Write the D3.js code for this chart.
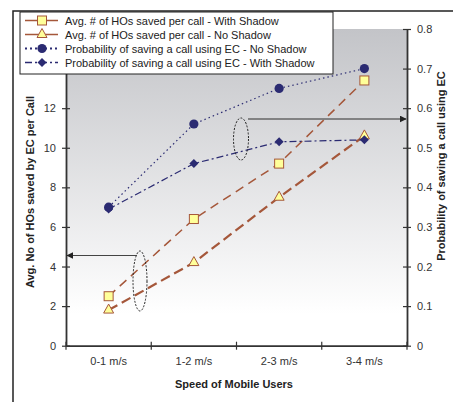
<!DOCTYPE html>
<html>
<head>
<meta charset="utf-8">
<script src="https://cdn.jsdelivr.net/npm/d3@7"></script>
<style>
  html, body { margin: 0; padding: 0; background: #fff; }
  svg { display: block; font-family: "Liberation Sans", Arial, sans-serif; }
</style>
</head>
<body>
<svg id="chart" width="453" height="402"></svg>
<script>
// Speed classes on the x axis
const categories = ["0-1 m/s", "1-2 m/s", "2-3 m/s", "3-4 m/s"];

// Average number of handovers saved per call (left axis)
const hosWithShadow = [2.5, 6.4, 9.2, 13.4];
const hosNoShadow = [1.8, 4.2, 7.5, 10.6];

// Probability of saving a call using EC (right axis)
const probNoShadow = [0.35, 0.56, 0.65, 0.70];
const probWithShadow = [0.345, 0.46, 0.515, 0.52];

// Tick labels
const leftTicks = [0, 2, 4, 6, 8, 10, 12, 14, 16];
const rightTicks = [0, 0.1, 0.2, 0.3, 0.4, 0.5, 0.6, 0.7, 0.8];

const legendLabels = [
  "Avg. # of HOs saved per call - With Shadow",
  "Avg. # of HOs saved per call - No Shadow",
  "Probability of saving a call using EC - No Shadow",
  "Probability of saving a call using EC - With Shadow"
];

const svg = d3.select("#chart");
const plot = { left: 66, right: 407, top: 29, bottom: 345.7 };

const x = d3.scaleBand().domain(categories).range([plot.left, plot.right]).padding(0);
const yL = d3.scaleLinear().domain([0, 16]).range([plot.bottom, plot.top]);
const yR = d3.scaleLinear().domain([0, 0.8]).range([plot.bottom, plot.top]);

const BROWN = "#a5573a";
const NAVY = "#2b2b72";
const AXIS = "#333";

// outer frame of the figure
svg.append("rect")
  .attr("x", 13).attr("y", 11).attr("width", 460).attr("height", 420)
  .attr("fill", "none").attr("stroke", "#222").attr("stroke-width", 1.5);

// plot area gradient
const defs = svg.append("defs");
const grad = defs.append("linearGradient").attr("id", "bg")
  .attr("x1", 0).attr("y1", 0).attr("x2", 0).attr("y2", 1);
grad.append("stop").attr("offset", 0).attr("stop-color", "#c3c4c8");
grad.append("stop").attr("offset", 0.9).attr("stop-color", "#ffffff");
grad.append("stop").attr("offset", 1).attr("stop-color", "#ffffff");

svg.append("rect")
  .attr("x", plot.left).attr("y", plot.top)
  .attr("width", plot.right - plot.left).attr("height", plot.bottom - plot.top)
  .attr("fill", "url(#bg)");

// axes
function styleAxis(g) {
  g.selectAll("path").attr("stroke", AXIS).attr("stroke-width", 1.8);
  g.selectAll("line").attr("stroke", AXIS).attr("stroke-width", 1.2);
  g.selectAll("text").attr("fill", "#333").attr("font-size", 11)
    .attr("font-family", "Liberation Sans, Arial, sans-serif");
}

const gL = svg.append("g").attr("transform", `translate(${plot.left},0)`)
  .call(d3.axisLeft(yL).tickValues(leftTicks).tickFormat(d3.format("d"))
    .tickSizeInner(4).tickSizeOuter(0).tickPadding(6));
gL.selectAll(".tick line").attr("x2", 4).attr("x1", -4);
styleAxis(gL);

const gR = svg.append("g").attr("transform", `translate(${plot.right},0)`)
  .call(d3.axisRight(yR).tickValues(rightTicks).tickFormat(d => d === 0 ? "0" : d3.format(".1f")(d))
    .tickSizeInner(4).tickSizeOuter(0).tickPadding(6));
gR.selectAll(".tick line").attr("x1", -4).attr("x2", 4);
styleAxis(gR);

const gX = svg.append("g").attr("transform", `translate(0,${plot.bottom})`)
  .call(d3.axisBottom(x).tickSize(0).tickPadding(12));
gX.select("path").attr("stroke", AXIS);
styleAxis(gX);
gX.selectAll(".tick text").attr("dy", "0.71em");
// category separators on the x axis
const bounds = d3.range(categories.length + 1).map(i => plot.left + i * x.bandwidth());
gX.selectAll("line.sep").data(bounds).enter().append("line").attr("class", "sep")
  .attr("x1", d => d).attr("x2", d => d).attr("y1", -4).attr("y2", 4)
  .attr("stroke", AXIS).attr("stroke-width", 1.2);

// axis titles
svg.append("text")
  .attr("transform", `translate(34,192) rotate(-90)`)
  .attr("text-anchor", "middle").attr("font-size", 11).attr("font-weight", "bold").attr("fill", "#222")
  .text("Avg. No of HOs saved by EC per Call");
svg.append("text")
  .attr("transform", `translate(445,166) rotate(-90)`)
  .attr("text-anchor", "middle").attr("font-size", 11).attr("font-weight", "bold").attr("fill", "#222")
  .text("Probability of saving a call using EC");
svg.append("text")
  .attr("x", 234).attr("y", 388)
  .attr("text-anchor", "middle").attr("font-size", 11).attr("font-weight", "bold").attr("fill", "#222")
  .text("Speed of Mobile Users");

const cx = d => x(d) + x.bandwidth() / 2;

const series = [
  { values: hosWithShadow, y: yL, color: BROWN, width: 1.5, dash: "9,6", marker: "square" },
  { values: hosNoShadow, y: yL, color: BROWN, width: 2.2, dash: "10,5", marker: "triangle" },
  { values: probNoShadow, y: yR, color: NAVY, width: 1.2, dash: "1.5,3", marker: "circle" },
  { values: probWithShadow, y: yR, color: NAVY, width: 1.2, dash: "7,3,2,3", marker: "diamond" }
];

function drawMarker(g, type, px, py) {
  if (type === "square") {
    g.append("rect").attr("x", px - 4.5).attr("y", py - 4.5).attr("width", 9).attr("height", 9)
      .attr("fill", "#ffff99").attr("stroke", BROWN).attr("stroke-width", 1);
  } else if (type === "triangle") {
    g.append("path").attr("d", `M${px},${py - 6}L${px + 5},${py + 3}L${px - 5},${py + 3}Z`)
      .attr("fill", "#ffff99").attr("stroke", BROWN).attr("stroke-width", 1);
  } else if (type === "circle") {
    g.append("circle").attr("cx", px).attr("cy", py).attr("r", 4.6).attr("fill", NAVY);
  } else {
    g.append("path").attr("d", `M${px},${py - 4.5}L${px + 4.5},${py}L${px},${py + 4.5}L${px - 4.5},${py}Z`)
      .attr("fill", NAVY);
  }
}

series.forEach(s => {
  const line = d3.line().x((d, i) => cx(categories[i])).y(d => s.y(d));
  svg.append("path").datum(s.values).attr("d", line)
    .attr("fill", "none").attr("stroke", s.color).attr("stroke-width", s.width)
    .attr("stroke-dasharray", s.dash);
});
series.forEach(s => {
  const g = svg.append("g");
  s.values.forEach((v, i) => drawMarker(g, s.marker, cx(categories[i]), s.y(v)));
});

// annotation: group pointing to the left axis
const ARROW = "#444";
defs.append("marker").attr("id", "head").attr("viewBox", "0 0 10 10")
  .attr("refX", 9).attr("refY", 5).attr("markerWidth", 7).attr("markerHeight", 7)
  .attr("markerUnits", "userSpaceOnUse").attr("orient", "auto")
  .append("path").attr("d", "M0,0L10,5L0,10Z").attr("fill", "#222");

svg.append("ellipse").attr("cx", 140).attr("cy", 281).attr("rx", 7).attr("ry", 30)
  .attr("fill", "none").attr("stroke", "#222").attr("stroke-width", 1).attr("stroke-dasharray", "2,1.5");
svg.append("line").attr("x1", 137).attr("y1", 255.5).attr("x2", 67).attr("y2", 255.5)
  .attr("stroke", ARROW).attr("stroke-width", 1.2).attr("marker-end", "url(#head)");

// annotation: group pointing to the right axis
svg.append("ellipse").attr("cx", 241).attr("cy", 139).attr("rx", 7.5).attr("ry", 21)
  .attr("fill", "none").attr("stroke", "#222").attr("stroke-width", 1).attr("stroke-dasharray", "2,1.5");
svg.append("line").attr("x1", 248).attr("y1", 119).attr("x2", 406).attr("y2", 119)
  .attr("stroke", "#666").attr("stroke-width", 1.6).attr("marker-end", "url(#head)");

// legend
const lg = svg.append("g");
lg.append("rect").attr("x", 20).attr("y", 12).attr("width", 313).attr("height", 62)
  .attr("fill", "#fff").attr("stroke", "#222").attr("stroke-width", 1);
series.forEach((s, i) => {
  const ly = 20.5 + i * 14;
  lg.append("line").attr("x1", 25).attr("x2", 58).attr("y1", ly).attr("y2", ly)
    .attr("stroke", s.color).attr("stroke-width", s.marker === "circle" ? 2 : 1.5)
    .attr("stroke-dasharray", s.marker === "circle" ? "2,3" : s.marker === "diamond" ? "7,3,2,3" : null);
  drawMarker(lg, s.marker, 42, ly);
  lg.append("text").attr("x", 65).attr("y", ly + 4).attr("font-size", 11).attr("fill", "#222")
    .text(legendLabels[i]);
});
</script>
</body>
</html>
